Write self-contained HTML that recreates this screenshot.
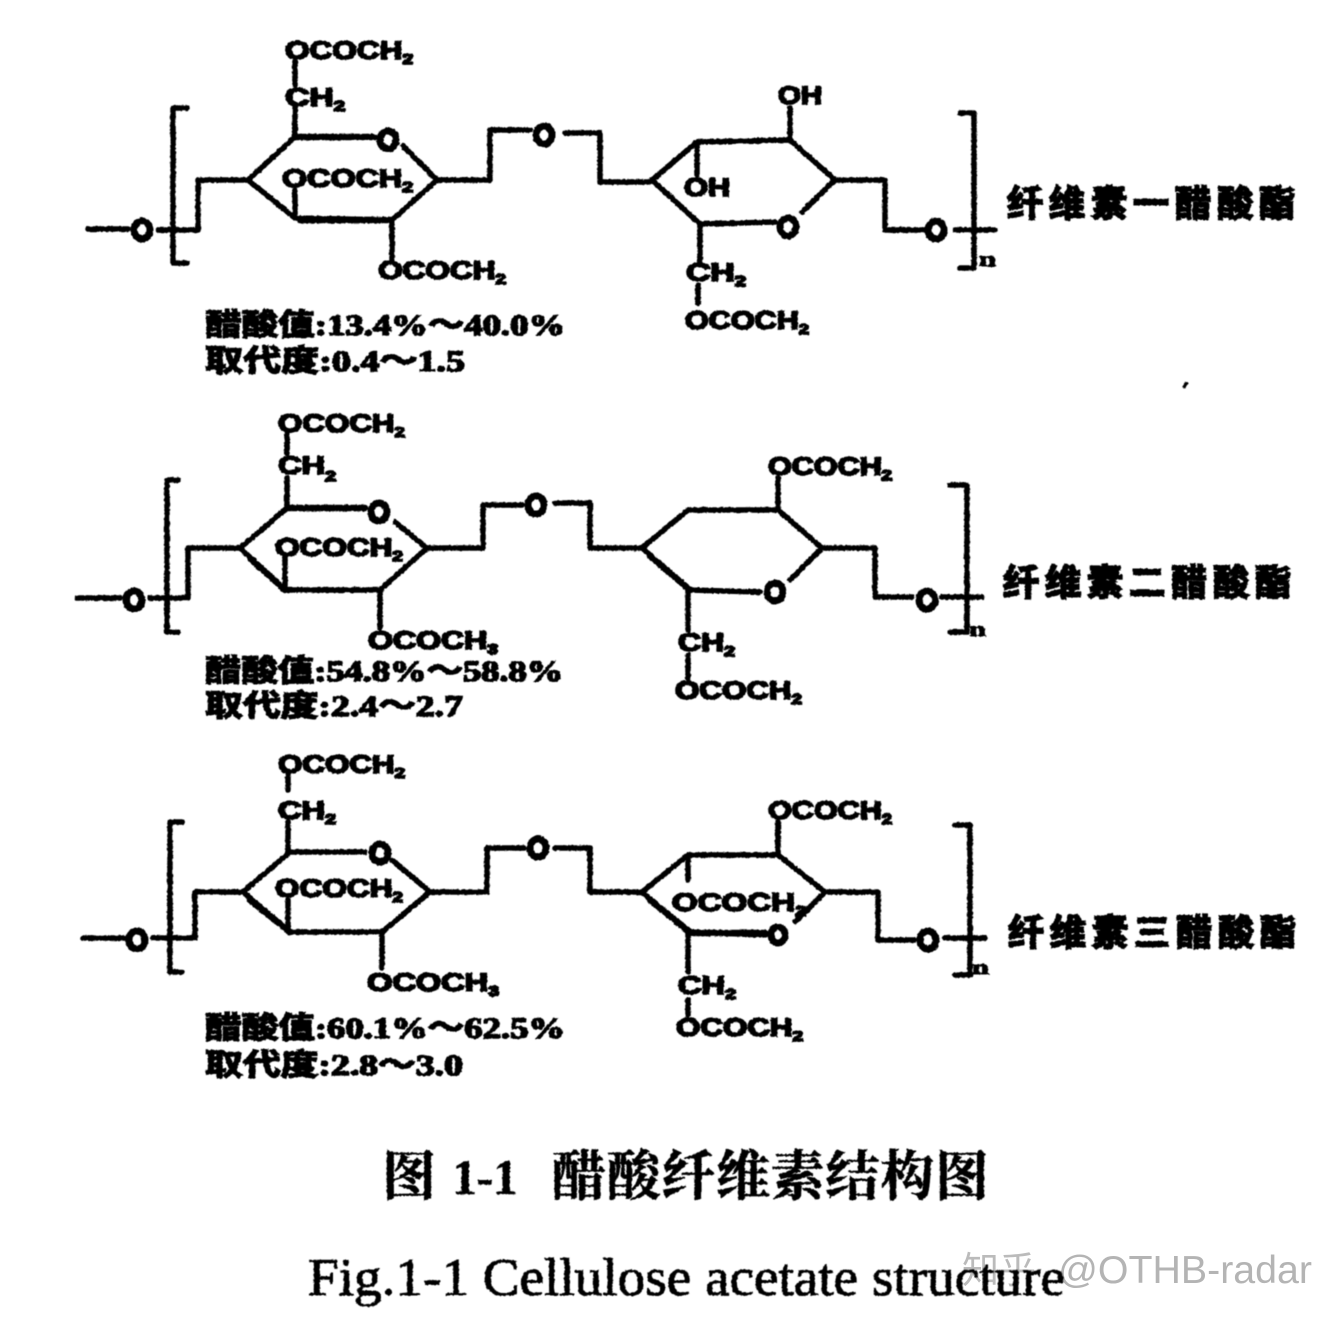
<!DOCTYPE html>
<html><head><meta charset="utf-8"><style>
html,body{margin:0;padding:0;background:#fff;width:1344px;height:1324px;overflow:hidden}
svg{display:block}
.l{fill:none;stroke:#000;stroke-width:5.5;stroke-linejoin:round;stroke-linecap:round}
.k{fill:none;stroke:#000;stroke-width:6.5;stroke-linejoin:round;stroke-linecap:round}
.o{fill:none;stroke:#000;stroke-width:7}
text{fill:#000}
.t{font:bold 25px "Liberation Sans",sans-serif;stroke:#000;stroke-width:1.8}
.s{font-size:15px}
.n{font:bold 20px "Liberation Serif",serif;stroke:#000;stroke-width:1}
.c{font:bold 36px "Liberation Sans","Noto Sans CJK SC",sans-serif;stroke:#000;stroke-width:2}
.m{font:bold 30px "Liberation Serif","Noto Sans CJK SC",serif;stroke:#000;stroke-width:1.6}
</style></head><body>
<svg width="1344" height="1324" viewBox="0 0 1344 1324" xmlns="http://www.w3.org/2000/svg">
<defs>
<filter id="b" x="-2%" y="-2%" width="104%" height="104%">
<feTurbulence type="fractalNoise" baseFrequency="0.35" numOctaves="2" seed="4" result="n"/>
<feDisplacementMap in="SourceGraphic" in2="n" scale="2.5" xChannelSelector="R" yChannelSelector="G"/>
<feGaussianBlur stdDeviation="0.5"/>
</filter>
</defs>
<g filter="url(#b)">
<!-- structure 1 -->
<g class="l">
<path d="M187 108H173V263H187"/><path d="M88 229H128M158 230H198V180H248"/>
<path d="M248 180L295 137H375M403 146L437 180L392 220L295 218L248 180"/>
<path d="M295 190V218M295 137V108M295 85V62"/>
<path d="M392 220V262M437 180H490V130H530M565 133H600V182H652"/>
<path d="M652 180L697 142L790 140L835 180L802 212M775 222L700 224L652 180"/>
<path d="M697 142V175M700 224V262M698 285V303M790 140V108"/>
<path d="M835 180H885V230H925M955 230H995"/>
<path d="M960 113H974V268H960"/>
</g>
<path class="k" d="M295 137H372M392 220H300"/>
<g class="o"><ellipse cx="142" cy="230" rx="8" ry="9"/><ellipse cx="388" cy="140" rx="8" ry="9"/><ellipse cx="544" cy="135" rx="8" ry="9"/><ellipse cx="788" cy="227" rx="8" ry="9"/><ellipse cx="936" cy="230" rx="8" ry="9"/></g>
<g class="t">
<text x="285" y="59" textLength="128" lengthAdjust="spacingAndGlyphs">OCOCH<tspan class="s" dy="5">2</tspan></text>
<text x="285" y="106" textLength="60" lengthAdjust="spacingAndGlyphs">CH<tspan class="s" dy="5">2</tspan></text>
<text x="282" y="187" textLength="131" lengthAdjust="spacingAndGlyphs">OCOCH<tspan class="s" dy="5">2</tspan></text>
<text x="378" y="279" textLength="128" lengthAdjust="spacingAndGlyphs">OCOCH<tspan class="s" dy="5">2</tspan></text>
<text x="778" y="104" textLength="44" lengthAdjust="spacingAndGlyphs">OH</text>
<text x="684" y="196" textLength="46" lengthAdjust="spacingAndGlyphs">OH</text>
<text x="686" y="281" textLength="60" lengthAdjust="spacingAndGlyphs">CH<tspan class="s" dy="5">2</tspan></text>
<text x="685" y="329" textLength="124" lengthAdjust="spacingAndGlyphs">OCOCH<tspan class="s" dy="5">2</tspan></text>
</g>
<text class="n" x="979" y="266" textLength="17" lengthAdjust="spacingAndGlyphs">n</text>
<text class="c" x="1007" y="216" textLength="288" lengthAdjust="spacing">纤维素一醋酸酯</text>
<text class="m" x="205" y="335" textLength="360" lengthAdjust="spacingAndGlyphs">醋酸值:13.4%～40.0%</text>
<text class="m" x="205" y="371" textLength="260" lengthAdjust="spacingAndGlyphs">取代度:0.4～1.5</text>

<!-- structure 2 -->
<g class="l">
<path d="M178 480H167V632H178"/><path d="M77 598H120M150 598H188V548H240"/>
<path d="M240 548L287 508H365M395 522L427 548L380 590H285L240 548"/>
<path d="M285 556V590M287 508V478M287 453V434"/>
<path d="M380 590V628M427 548H483V505H522M555 503H590V548H642"/>
<path d="M642 548L688 510H778L822 548L790 580M760 592L690 590L642 548"/>
<path d="M778 510V478M688 590V630M688 655V678"/>
<path d="M822 548H875V597H912M942 597H982"/>
<path d="M950 485H967V632H950"/>
</g>
<path class="k" d="M287 508H365M250 558L285 590M650 556L690 590"/>
<g class="o"><ellipse cx="134" cy="600" rx="8" ry="9"/><ellipse cx="379" cy="512" rx="8" ry="9"/><ellipse cx="536" cy="505" rx="8" ry="9"/><ellipse cx="775" cy="592" rx="8" ry="9"/><ellipse cx="927" cy="600" rx="8" ry="9"/></g>
<g class="t">
<text x="278" y="432" textLength="127" lengthAdjust="spacingAndGlyphs">OCOCH<tspan class="s" dy="5">2</tspan></text>
<text x="278" y="474" textLength="58" lengthAdjust="spacingAndGlyphs">CH<tspan class="s" dy="7">2</tspan></text>
<text x="275" y="556" textLength="128" lengthAdjust="spacingAndGlyphs">OCOCH<tspan class="s" dy="5">2</tspan></text>
<text x="368" y="649" textLength="130" lengthAdjust="spacingAndGlyphs">OCOCH<tspan class="s" dy="5">3</tspan></text>
<text x="768" y="475" textLength="124" lengthAdjust="spacingAndGlyphs">OCOCH<tspan class="s" dy="5">2</tspan></text>
<text x="678" y="651" textLength="57" lengthAdjust="spacingAndGlyphs">CH<tspan class="s" dy="5">2</tspan></text>
<text x="675" y="699" textLength="127" lengthAdjust="spacingAndGlyphs">OCOCH<tspan class="s" dy="5">2</tspan></text>
</g>
<text class="n" x="969" y="636" textLength="17" lengthAdjust="spacingAndGlyphs">n</text>
<text class="c" x="1003" y="595" textLength="288" lengthAdjust="spacing">纤维素二醋酸酯</text>
<text class="m" x="205" y="681" textLength="358" lengthAdjust="spacingAndGlyphs">醋酸值:54.8%～58.8%</text>
<text class="m" x="205" y="716" textLength="258" lengthAdjust="spacingAndGlyphs">取代度:2.4～2.7</text>

<!-- structure 3 -->
<g class="l">
<path d="M182 822H170V972H182"/><path d="M83 938H124M153 938H195V892H243"/>
<path d="M243 892L290 852H365M392 860L430 892L382 932H290L243 892"/>
<path d="M288 900V932M288 852V822M288 790V775"/>
<path d="M382 932V968M430 892H487V848H524M555 848H590V892H642"/>
<path d="M642 892L688 855H778L825 892L795 922M765 935L688 932L642 892"/>
<path d="M688 855V880M778 855V822M688 932V972M688 1000V1015"/>
<path d="M825 892H878V940H914M945 938H985"/>
<path d="M955 825H970V975H955"/>
</g>
<path class="k" d="M250 900L290 932M650 900L690 932M690 933H765"/>
<g class="o"><ellipse cx="137" cy="940" rx="8" ry="9"/><ellipse cx="380" cy="853" rx="8" ry="9"/><ellipse cx="538" cy="848" rx="8" ry="9"/><ellipse cx="778" cy="935" rx="7" ry="8"/><ellipse cx="928" cy="940" rx="8" ry="9"/></g>
<g class="t">
<text x="278" y="773" textLength="127" lengthAdjust="spacingAndGlyphs">OCOCH<tspan class="s" dy="5">2</tspan></text>
<text x="278" y="819" textLength="58" lengthAdjust="spacingAndGlyphs">CH<tspan class="s" dy="5">2</tspan></text>
<text x="275" y="897" textLength="128" lengthAdjust="spacingAndGlyphs">OCOCH<tspan class="s" dy="5">2</tspan></text>
<text x="367" y="991" textLength="132" lengthAdjust="spacingAndGlyphs">OCOCH<tspan class="s" dy="5">3</tspan></text>
<text x="768" y="819" textLength="124" lengthAdjust="spacingAndGlyphs">OCOCH<tspan class="s" dy="5">2</tspan></text>
<text x="672" y="911" textLength="134" lengthAdjust="spacingAndGlyphs">OCOCH<tspan class="s" dy="5">2</tspan></text>
<text x="678" y="994" textLength="58" lengthAdjust="spacingAndGlyphs">CH<tspan class="s" dy="5">2</tspan></text>
<text x="676" y="1036" textLength="127" lengthAdjust="spacingAndGlyphs">OCOCH<tspan class="s" dy="5">2</tspan></text>
</g>
<text class="n" x="972" y="974" textLength="17" lengthAdjust="spacingAndGlyphs">n</text>
<text class="c" x="1008" y="945" textLength="288" lengthAdjust="spacing">纤维素三醋酸酯</text>
<text class="m" x="205" y="1038" textLength="360" lengthAdjust="spacingAndGlyphs">醋酸值:60.1%～62.5%</text>
<text class="m" x="205" y="1075" textLength="258" lengthAdjust="spacingAndGlyphs">取代度:2.8～3.0</text>
<path d="M1187 382L1184 388" stroke="#000" stroke-width="3" fill="none"/>
</g>
<!-- watermark -->
<text x="962" y="1283" font-family="'Noto Sans CJK SC',sans-serif" font-size="37" style="fill:#bbb">知乎</text>
<text x="1058" y="1283" textLength="254" lengthAdjust="spacingAndGlyphs" font-family="'Liberation Sans',sans-serif" font-size="39" style="fill:#b4b4b4">@OTHB-radar</text>
<!-- caption -->
<g filter="url(#b)">
<text x="382" y="1195" font-family="'Noto Serif CJK SC','Liberation Serif',serif" font-size="54" font-weight="700" stroke="#000" stroke-width=".8">图</text>
<text x="452" y="1194" textLength="66" lengthAdjust="spacing" font-family="'Liberation Serif',serif" font-size="50" font-weight="700" stroke="#000" stroke-width=".5">1-1</text>
<text x="552" y="1195" textLength="437" lengthAdjust="spacing" font-family="'Noto Serif CJK SC','Liberation Serif',serif" font-size="54" font-weight="700" stroke="#000" stroke-width=".8">醋酸纤维素结构图</text>
<text x="308" y="1295" textLength="757" lengthAdjust="spacingAndGlyphs" font-family="'Liberation Serif',serif" font-size="53" stroke="#000" stroke-width=".9">Fig.1-1 Cellulose acetate structure</text>
</g>
</svg>
</body></html>
